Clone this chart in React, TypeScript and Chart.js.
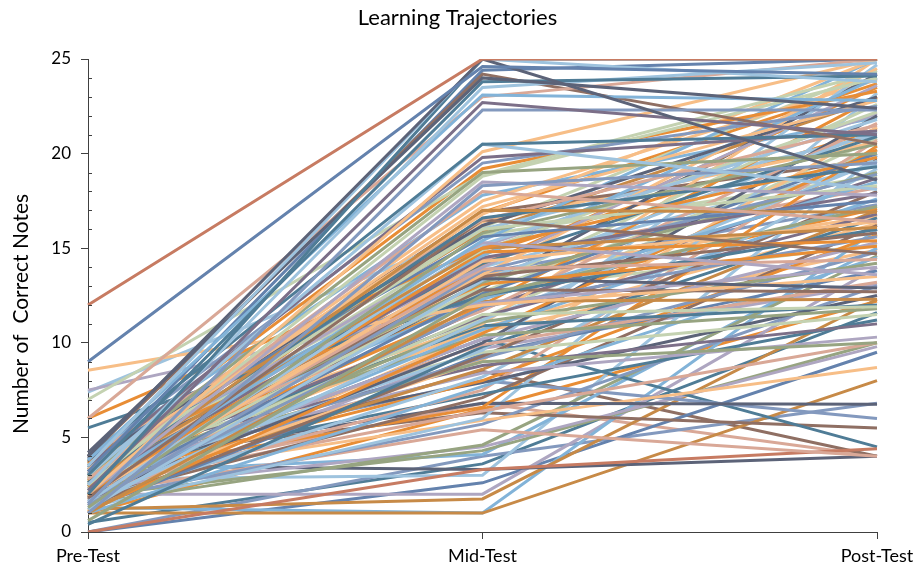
import React, { useEffect, useRef } from "react";
import { Chart, registerables } from "chart.js";

Chart.register(...registerables);

const categories = ["Pre-Test", "Mid-Test", "Post-Test"];
const yTicks = [0, 5, 10, 15, 20, 25];
const yAxisTitle = "Number of  Correct Notes";
const chartTitle = "Learning Trajectories";

const palette = [
  "#C77B62", "#6482AD", "#9EC3DE", "#F7BE87", "#C4D2B1", "#E88D35", "#4F7C96", "#AEA6C1",
  "#D9A897", "#8F6F63", "#5C6378", "#97A481", "#C78A47", "#82B3D8", "#8399BE", "#7C6F88",
];

const preTest = [
  12, 9, 4, 3.5, 2, 4.2, 3, 2.5, 3.8, 2.2, 1.5, 6, 4, 3.2, 4, 3, 2, 3.5, 4, 3,
  2.5, 1, 2, 7, 3.6, 2.8, 3, 2.4, 3.3, 2.6, 4, 1.8, 3.7, 2.9, 1.3, 3.9, 2.2, 3.1, 6, 2.7,
  1.6, 3.5, 2, 3.4, 2.5, 1.9, 3.8, 4, 2.1, 1.4, 3, 2.6, 3.3, 1.2, 2.8, 3.7, 2.3, 0.6, 8.55, 7.5,
  5.5, 3.2, 2, 3.6, 1, 2.9, 1.7, 3.9, 2.4, 3.1, 1.5, 2.7, 4, 3.4, 2.2, 1.1, 3.7, 2.5, 1.9, 3,
  0.4, 2.6, 3.8, 1.4, 2.9, 3.3, 2, 1.2, 4, 2.3, 3.5, 1.6, 2.8, 3.9, 1, 2.1, 3.2, 1.8, 3, 2.4,
  3.6, 1.3, 2.7, 1.7, 3.4, 2, 0, 2.5, 3.8, 1.5, 2.2, 1.9, 3.1, 3.5, 2.8, 1, 1.2, 1.3, 2, 0,
  0, 3, 2.5, 7.4, 1, 0.5, 3.6, 2.3, 1.8, 3.2, 2.7, 3.9, 1.6, 2.4, 3.4,
  3.9, 2.6, 1.7, 3.1, 2.9, 3.5, 1.1, 2.4, 3.7, 2.1, 4, 1.5, 3.3, 2.8, 1.9,
];

const midTest = [
  25, 24.6, 25, 25, 25, 24, 23.8, 23.5, 23.1, 22.7, 22.3, 23, 24.2, 24.4, 20.5, 20.5, 20.1, 19.8, 19.5, 19,
  18.8, 18.3, 18.5, 18.9, 19.2, 18, 17.2, 17, 16.8, 16.6, 16.5, 16.5, 16.2, 16, 15.8, 15.6, 15.4, 15.3, 15, 15,
  15.2, 14.9, 14.8, 14.6, 14.5, 14.3, 14.2, 14, 13.9, 13.8, 13.6, 13.5, 13.4, 13.3, 13.2, 13.1, 13, 12.5, 12, 12.1,
  12.5, 12.8, 12.6, 12.3, 12.2, 12, 11.9, 11.7, 11.5, 11.4, 11.2, 11.1, 11, 10.9, 10.7, 10.5, 10.4, 10.2, 10, 9.9,
  9.8, 9.6, 9.5, 9.3, 9.2, 9, 9.1, 9.4, 8.8, 8.6, 8.4, 8.2, 8, 7.9, 7.7, 7.5, 7.3, 7.1, 6.6, 6.4,
  6.8, 6, 5.9, 5.7, 8, 5.4, 3.3, 10.2, 6.3, 4.6, 4.5, 4.3, 4.1, 3.3, 3, 1, 1.75, 1, 2, 2.6,
  4, 8.5, 6.8, 16, 6.5, 3.6, 12.7, 11.8, 14.1, 16.9, 10.8, 13.7, 9.7, 12.9, 15.9,
  16.4, 15.7, 14.7, 17.5, 14, 16.1, 13.6, 15.1, 12.4, 11.3, 17.8, 10.6, 14.4, 12.7, 16.9,
];

const postTest = [
  25, 24.2, 18.6, 23.8, 25, 22.4, 24.1, 24.8, 22.8, 21, 22.3, 25, 20.5, 25, 21, 18.1, 25, 21.2, 22.5, 20,
  24, 19.5, 17.8, 24.3, 23.3, 16.4, 22.8, 16.9, 25, 19.3, 21.5, 14.7, 23, 18.3, 20.5, 17.5, 25, 13.6, 19.8, 16.1,
  21.8, 22.2, 15.4, 24, 17.9, 16.4, 20.9, 23.6, 14.4, 18.9, 24.5, 15.8, 12.9, 21.2, 19, 15.1, 22.6, 17.2, 13.5, 14,
  16, 12.7, 20, 18.5, 12.3, 23, 15.6, 21.6, 11.9, 16.8, 19.6, 14.2, 25, 12, 17.6, 20.2, 11.8, 15.3, 22, 13.2,
  16.6, 24.7, 11.5, 18, 14.8, 10, 21.4, 13.8, 11, 17, 10.3, 19.2, 15.7, 12.5, 14.5, 20.7, 11.2, 16.2, 20.4, 10,
  6.75, 23.2, 8.7, 13, 6, 4, 4.4, 4.5, 5.5, 14.6, 9.8, 10, 15, 4, 19.9, 8, 12.3, 16, 14, 9.5,
  6.8, 4, 4, 21, 12.2, 11.6, 20.2, 18.7, 23.5, 19.7, 16.3, 17.3, 13.1, 24.2, 22.9,
  20.6, 18.8, 21.3, 23.9, 19.4, 24.4, 16.7, 22.1, 17.1, 20.8, 21.9, 14.9, 18.2, 15.2, 23.7,
];

const seriesColor = [
  0, 1, 10, 2, 6, 10, 6, 2, 13, 15, 14, 8, 9, 1, 6, 2, 3, 15, 14, 11,
  4, 14, 7, 4, 5, 8, 3, 12, 3, 6, 8, 9, 10, 4, 11, 1, 13, 7, 5, 12,
  2, 4, 5, 13, 15, 3, 6, 7, 8, 14, 3, 9, 10, 2, 11, 5, 4, 11, 3, 7,
  6, 9, 1, 13, 12, 5, 14, 8, 4, 15, 2, 11, 3, 6, 13, 5, 11, 7, 10, 8,
  6, 2, 4, 9, 14, 11, 3, 1, 15, 12, 7, 2, 5, 10, 13, 8, 6, 9, 5, 8,
  10, 2, 3, 14, 14, 8, 0, 6, 9, 11, 7, 11, 13, 10, 2, 12, 12, 13, 7, 1,
  14, 9, 8, 2, 5, 6, 4, 15, 5, 9, 3, 14, 7, 10, 12,
  3, 4, 5, 3, 2, 4, 3, 7, 5, 4, 13, 3, 8, 4, 5,
];

const FONT = "Lato, 'Open Sans', sans-serif";

const axisExtras = {
  id: "axisExtras",
  afterDraw(chart: any) {
    const y = chart.scales.y;
    const ctx = chart.ctx;
    const area = chart.chartArea;
    ctx.save();
    ctx.strokeStyle = "#404040";
    ctx.lineWidth = 1;
    for (let v = 0; v <= 25; v++) {
      if (v % 5 === 0) continue;
      const py = Math.round(y.getPixelForValue(v)) + 0.5;
      ctx.beginPath();
      ctx.moveTo(area.left, py);
      ctx.lineTo(area.left + 4, py);
      ctx.stroke();
    }
    // y-axis title
    ctx.fillStyle = "#000";
    ctx.font = "21px " + FONT;
    ctx.textAlign = "center";
    ctx.textBaseline = "alphabetic";
    ctx.translate(27.5, 314);
    ctx.rotate(-Math.PI / 2);
    ctx.fillText(yAxisTitle, 0, 0);
    ctx.restore();
  },
};

export default function App() {
  const ref = useRef<HTMLCanvasElement | null>(null);
  useEffect(() => {
    if (!ref.current) return;
    const datasets = preTest.map((p, i) => ({
      label: "S" + (i + 1),
      data: [p, midTest[i], postTest[i]],
      borderColor: palette[seriesColor[i]],
      backgroundColor: palette[seriesColor[i]],
      borderWidth: 3,
      pointRadius: 0,
      tension: 0,
      fill: false,
      yAxisID: "y",
    }));
    const chart = new Chart(ref.current, {
      type: "line",
      data: { labels: categories, datasets },
      plugins: [axisExtras],
      options: {
        animation: false,
        responsive: false,
        maintainAspectRatio: false,
        layout: { padding: 0 },
        plugins: {
          legend: { display: false },
          tooltip: { enabled: false },
          title: {
            display: true,
            text: chartTitle,
            color: "#000",
            font: { family: FONT, size: 22, weight: "normal", lineHeight: 1.2 },
            padding: { top: 5, bottom: 27.6 },
          },
        },
        scales: {
          x: {
            type: "category",
            offset: false,
            grid: { drawOnChartArea: false, offset: false, tickLength: 7, color: "#404040" },
            border: { color: "#404040", width: 1 },
            ticks: { color: "#000", padding: 6, maxRotation: 0, font: { family: FONT, size: 18 } },
            afterFit: (s: any) => {
              s.height = 34;
              s.paddingLeft = 0;
              s.paddingRight = 0;
            },
          },
          y: {
            min: 0,
            max: 25,
            afterBuildTicks: (s: any) => { s.ticks = yTicks.map((v) => ({ value: v })); },
            grid: { drawOnChartArea: false, tickLength: 7, color: "#404040" },
            border: { color: "#404040", width: 1 },
            ticks: { color: "#000", padding: 10, font: { family: FONT, size: 17 } },
            afterFit: (s: any) => {
              s.width = 88;
              s.paddingTop = 0;
              s.paddingBottom = 0;
            },
          },
          spacer: {
            type: "linear",
            position: "right",
            display: true,
            min: 0,
            max: 25,
            grid: { display: false, drawTicks: false },
            border: { display: false },
            ticks: { display: false },
            afterFit: (s: any) => {
              s.width = 38;
              s.paddingTop = 0;
              s.paddingBottom = 0;
            },
          },
        },
      },
    });
    return () => chart.destroy();
  }, []);
  return (
    <div style={{ position: "fixed", left: 0, top: 0, width: 915, height: 566, background: "#fff" }}>
      <canvas ref={ref} width={915} height={566} style={{ width: 915, height: 566 }} />
    </div>
  );
}
